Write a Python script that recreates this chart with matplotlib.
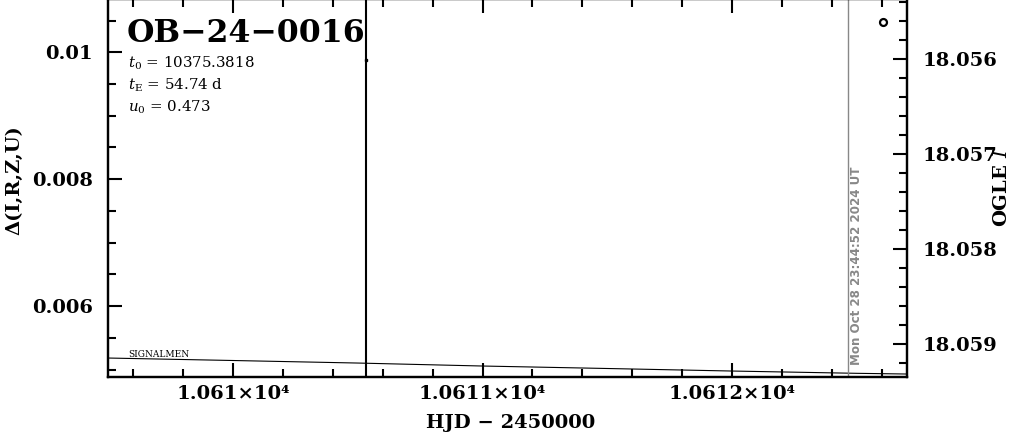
import matplotlib
matplotlib.use("Agg")
import matplotlib.pyplot as plt
from matplotlib.ticker import MultipleLocator

# model curve (HJD-2450000 vs Delta)
model_hjd = [10609.5, 10610.0, 10610.5, 10611.0, 10611.5, 10612.0, 10612.5, 10612.7]
model_delta = [0.005181, 0.005142, 0.005102, 0.005055, 0.005016, 0.004976, 0.004940, 0.004929]

# OGLE points (I mag)
ogle_hjd = [10612.605]
ogle_mag = [18.05561]
bar_hjd = [10610.533]
bar_mag = [18.05601]

now_hjd = 10612.465
now_text = "Mon Oct 28 23:44:52 2024 UT"

event_name = "OB\u221224\u22120016"
params = [r"$t_0$ = 10375.3818", r"$t_\mathrm{E}$ = 54.74 d", r"$u_0$ = 0.473"]

x_ticks = [10610, 10611, 10612]
x_labels = ["1.061\u00d710\u2074", "1.0611\u00d710\u2074", "1.0612\u00d710\u2074"]
left_ticks = [0.006, 0.008, 0.01]
left_labels = ["0.006", "0.008", "0.01"]
right_ticks = [18.056, 18.057, 18.058, 18.059]
right_labels = ["18.056", "18.057", "18.058", "18.059"]

plt.rcParams["font.family"] = "DejaVu Serif"
plt.rcParams["mathtext.fontset"] = "dejavuserif"

W, H = 1011, 434
fig = plt.figure(figsize=(W / 100, H / 100), dpi=100)
ax = fig.add_axes([108 / W, (H - 377) / H, (907 - 108) / W, 378 / H])
ax2 = ax.twinx()

ax.set_xlim(10609.499, 10612.701)
ax.set_ylim(0.004882, 0.01084)
ax2.set_ylim(18.05935, 18.05537)

ax.plot(model_hjd, model_delta, color="black", lw=0.8)
ax.axvline(now_hjd, color="#888888", lw=1.0)

ax2.errorbar(bar_hjd, bar_mag, yerr=1.0, fmt="s", ms=1.5, color="black",
             elinewidth=1.5, capsize=0)
ax2.plot(ogle_hjd, ogle_mag, "o", ms=5, mfc="white", mec="black", mew=1.6)

tick_font = dict(fontsize=14, fontweight="bold")
ax.set_xticks(x_ticks)
ax.set_xticklabels(x_labels, **tick_font)
ax.xaxis.set_minor_locator(MultipleLocator(0.2))
ax.set_yticks(left_ticks)
ax.set_yticklabels(left_labels, **tick_font)
ax.yaxis.set_minor_locator(MultipleLocator(0.0005))
ax2.set_yticks(right_ticks)
ax2.set_yticklabels(right_labels, **tick_font)
ax2.yaxis.set_minor_locator(MultipleLocator(0.0002))

ax.tick_params(which="both", direction="in", top=True, bottom=True, left=True, right=False, width=1.5)
ax.tick_params(which="major", length=10)
ax.tick_params(which="minor", length=5.5)
ax.tick_params(axis="x", pad=6)
ax.tick_params(axis="y", pad=11)
ax2.tick_params(which="both", direction="in", width=1.5, pad=11)
ax2.tick_params(which="major", length=10)
ax2.tick_params(which="minor", length=5.5)

for a in (ax, ax2):
    for s in a.spines.values():
        s.set_linewidth(1.6)

def fx(px):
    return px / W

def fy(py):
    return 1 - py / H

fig.text(fx(127), fy(42), event_name, fontsize=22.7, fontweight="bold", va="baseline")
for txt, base in zip(params, [68, 90, 112]):
    fig.text(fx(128), fy(base), txt, fontsize=10.8, va="baseline")

fig.text(fx(128), fy(357), "SIGNALMEN", fontsize=6.5, va="baseline")
fig.text(fx(857), fy(365), now_text, fontsize=8.6, fontweight="bold", color="#888888",
         rotation=90, ha="center", va="bottom", family="DejaVu Sans")

fig.text(fx(511), fy(428), "HJD \u2212 2450000", fontsize=14, fontweight="bold",
         ha="center", va="baseline")
fig.text(fx(14), fy(180), "\u0394(I,R,Z,U)", fontsize=14, fontweight="bold",
         rotation=90, ha="center", va="center")
fig.text(fx(1002), fy(187), r"OGLE $\mathit{I}$", fontsize=14, fontweight="bold",
         rotation=90, ha="center", va="center")

fig.savefig("out.png", dpi=100)
